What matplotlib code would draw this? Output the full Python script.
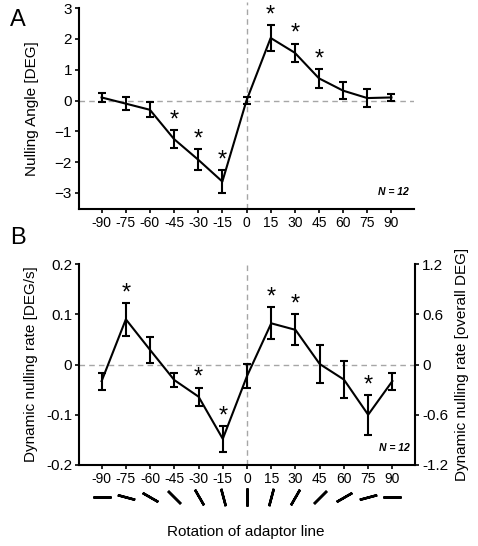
import numpy as np
import matplotlib
matplotlib.use('Agg')
import matplotlib.pyplot as plt
import matplotlib.transforms as mtransforms

plt.rcParams['font.family'] = ['Liberation Sans', 'DejaVu Sans']

### Data ###
rotation = [-90, -75, -60, -45, -30, -15, 0, 15, 30, 45, 60, 75, 90]

# panel A: nulling angle [DEG]
angle_mean = [0.1, -0.1, -0.3, -1.25, -1.92, -2.63, 0.0, 2.03, 1.55, 0.72, 0.32, 0.08, 0.1]
angle_err = [0.14, 0.2, 0.24, 0.28, 0.35, 0.37, 0.1, 0.43, 0.3, 0.3, 0.28, 0.28, 0.12]
angle_sig = [False, False, False, True, True, True, False, True, True, True, False, False, False]

# panel B: dynamic nulling rate [DEG/s]
rate_mean = [-0.033, 0.09, 0.029, -0.031, -0.064, -0.148, -0.023, 0.082, 0.069, 0.001, -0.03, -0.1, -0.033]
rate_err = [0.017, 0.033, 0.026, 0.014, 0.018, 0.026, 0.024, 0.032, 0.031, 0.037, 0.037, 0.04, 0.017]
rate_sig = [False, True, False, False, True, True, False, True, True, False, False, True, False]

DASH = dict(color='#a6a6a6', linestyle=(0, (4, 3)), linewidth=1)

fig = plt.figure(figsize=(4.78, 5.46), dpi=100)
axA = fig.add_axes([0.1653, 0.6172, 0.7008, 0.368])
axB = fig.add_axes([0.1653, 0.1484, 0.7029, 0.368])


def draw_panel(ax, mean, err, sig):
    ax.axhline(0, **DASH, zorder=1)
    ax.errorbar(rotation, mean, yerr=err, color='black', linewidth=1.5,
                elinewidth=1.5, capsize=3, capthick=1.5, zorder=3)
    for x, m, e, s in zip(rotation, mean, err, sig):
        if s:
            ax.annotate('*', (x, m + e), xytext=(0, -1), textcoords='offset points',
                        ha='center', va='bottom', fontsize=17)
    ax.set_xlim(-104, 104)
    ax.set_xticks(rotation)
    ax.set_xticklabels([str(r) for r in rotation])
    for side in ['top', 'right']:
        ax.spines[side].set_visible(False)
    for side in ['left', 'bottom']:
        ax.spines[side].set_linewidth(1.5)
    ax.tick_params(axis='both', direction='out', length=3, width=1.2,
                   labelsize=10, pad=2)
    ax.text(0.985, 0.085, 'N = 12', transform=ax.transAxes, ha='right',
            va='center', fontsize=7.5, style='italic', fontweight='bold')


### Panel A ###
draw_panel(axA, angle_mean, angle_err, angle_sig)
axA.axvline(0, ymin=0, ymax=1.03, clip_on=False, **DASH, zorder=1)
axA.set_ylim(-3.52, 3.0)
axA.set_yticks([-3, -2, -1, 0, 1, 2, 3])
axA.set_ylabel('Nulling Angle [DEG]', fontsize=11, labelpad=11)
axA.tick_params(axis='y', labelsize=11)

### Panel B ###
draw_panel(axB, rate_mean, rate_err, rate_sig)
axB.axvline(0, **DASH, zorder=1)
axB.set_ylim(-0.2, 0.2)
axB.set_yticks([-0.2, -0.1, 0, 0.1, 0.2])
axB.set_yticklabels(['-0.2', '-0.1', '0', '0.1', '0.2'])
axB.tick_params(axis='y', labelsize=11)
axB.set_ylabel('Dynamic nulling rate [DEG/s]', fontsize=11, labelpad=5.5)

axR = axB.twinx()
axR.set_ylim(-1.2, 1.2)
axR.set_yticks([-1.2, -0.6, 0, 0.6, 1.2])
axR.set_yticklabels(['-1.2', '-0.6', '0', '0.6', '1.2'])
for side in ['top', 'left', 'bottom']:
    axR.spines[side].set_visible(False)
axR.spines['right'].set_linewidth(1.5)
axR.tick_params(axis='y', direction='out', length=3, width=1.2, labelsize=11, pad=2)
axR.set_ylabel('Dynamic nulling rate [overall DEG]', fontsize=11, labelpad=5)

# adaptor line orientation glyphs
trans = mtransforms.blended_transform_factory(axB.transData, axB.transAxes)
for r in rotation:
    axB.plot(r, -0.16, marker=(2, 2, -r), markersize=13, markeredgewidth=1.8,
             color='black', transform=trans, clip_on=False, linestyle='none')

fig.text(246 / 478, 1 - 532 / 546, 'Rotation of adaptor line', ha='center',
         va='center', fontsize=11)

fig.text(18 / 478, 1 - 20 / 546, 'A', ha='center', va='center', fontsize=17)
fig.text(18 / 478, 1 - 238 / 546, 'B', ha='center', va='center', fontsize=17)

fig.savefig('out.png', dpi=100)
